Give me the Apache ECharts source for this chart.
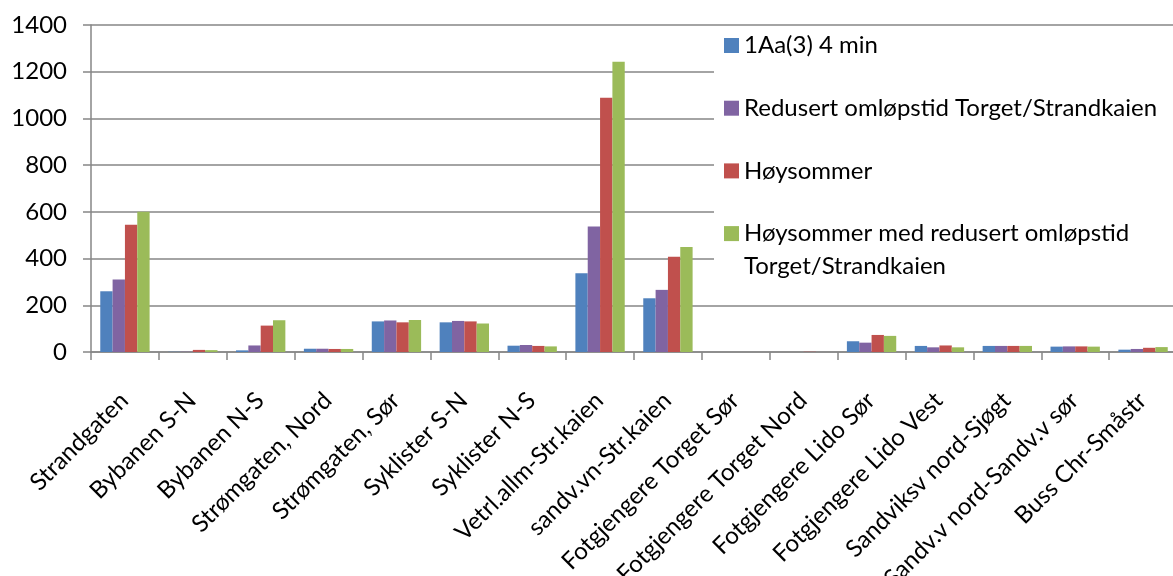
<!DOCTYPE html>
<html>
<head>
<meta charset="utf-8">
<script src="https://cdn.jsdelivr.net/npm/echarts@6/dist/echarts.min.js"></script>
<style>
  html, body { margin: 0; padding: 0; background: #fff; }
  #chart { width: 1173px; height: 576px; }
</style>
</head>
<body>
<div id="chart"></div>
<script>
// Counting points along the harbour front
const categories = [
  'Strandgaten', 'Bybanen S-N', 'Bybanen N-S', 'Strømgaten, Nord', 'Strømgaten, Sør',
  'Syklister S-N', 'Syklister N-S', 'Vetrl.allm-Str.kaien', 'sandv.vn-Str.kaien',
  'Fotgjengere Torget Sør', 'Fotgjengere Torget Nord', 'Fotgjengere Lido Sør',
  'Fotgjengere Lido Vest', 'Sandviksv nord-Sjøgt', 'Sandv.v nord-Sandv.v sør', 'Buss Chr-Småstr'
];

const seriesNames = [
  '1Aa(3) 4 min',
  'Redusert omløpstid Torget/Strandkaien',
  'Høysommer',
  'Høysommer med redusert omløpstid\nTorget/Strandkaien'
];

const base4min       = [260, 1, 7, 14, 131, 127, 27, 337, 230, 0, 0, 46, 26, 26, 23, 10];
const reducedTurn    = [310, 1, 28, 14, 135, 133, 30, 537, 266, 0, 0, 40, 20, 26, 24, 13];
const highSummer     = [545, 9, 113, 13, 127, 131, 26, 1089, 408, 0, 1, 73, 28, 26, 24, 18];
const highSummerRed  = [600, 8, 136, 13, 137, 122, 24, 1243, 450, 0, 0, 69, 20, 26, 23, 21];

const yTicks = { min: 0, max: 1400, interval: 200 };

const colors = ['#4F81BD', '#8064A2', '#C0504D', '#9BBB59'];
const FONT = 'Lato';
const FS = 24;

const chart = echarts.init(document.getElementById('chart'), null, { renderer: 'canvas' });

const valueSets = [base4min, reducedTurn, highSummer, highSummerRed];

const option = {
  animation: false,
  color: colors,
  textStyle: { fontFamily: FONT },
  grid: {
    left: 91, top: 25, bottom: 224, right: -4,
    containLabel: false, outerBoundsMode: 'none'
  },
  // white panel behind the legend hides the gridlines there
  graphic: [{
    type: 'rect',
    z: 1,
    shape: { x: 714, y: 30, width: 470, height: 262 },
    style: { fill: '#ffffff' }
  }],
  legend: {
    orient: 'vertical',
    left: 724,
    top: -4,
    padding: 0,
    itemWidth: 15,
    itemHeight: 15,
    itemGap: -36.3,
    icon: 'rect',
    textStyle: {
      fontFamily: FONT, fontSize: FS, color: '#000', lineHeight: 33,
      padding: [33, 0, 33, 0],
      // rich layout so the padding offsets the text block
      rich: { t: { fontFamily: FONT, fontSize: FS, color: '#000', lineHeight: 33 } }
    },
    // a wrapped name keeps its first line level with the swatch
    data: seriesNames.map((n, i) => i === 3
      ? { name: n, textStyle: { padding: [33, 0, 0, 0] } }
      : { name: n })
  },
  xAxis: {
    type: 'category',
    data: categories,
    axisLine: { lineStyle: { color: '#868686', width: 1.5 } },
    axisTick: { show: true, alignWithLabel: false, length: 8, lineStyle: { color: '#868686', width: 1.5 } },
    axisLabel: {
      interval: 0, rotate: 45, margin: 24,
      verticalAlign: 'top', lineHeight: 28, padding: [0, 15, 0, 0],
      fontFamily: FONT, fontSize: FS, color: '#000'
    }
  },
  yAxis: {
    type: 'value',
    min: yTicks.min, max: yTicks.max, interval: yTicks.interval,
    axisLine: { show: true, lineStyle: { color: '#868686', width: 1.5 } },
    axisTick: { show: true, length: 8, lineStyle: { color: '#868686', width: 1.5 } },
    splitLine: { lineStyle: { color: '#868686', width: 1.5 } },
    axisLabel: {
      margin: 24, fontFamily: FONT, fontSize: FS, color: '#000',
      formatter: v => String(v)
    }
  },
  series: seriesNames.map((name, i) => ({
    name,
    type: 'bar',
    data: valueSets[i],
    barGap: '0%',
    barCategoryGap: '27.3%',
    itemStyle: { color: colors[i] }
  }))
};

chart.setOption(option);
</script>
</body>
</html>
